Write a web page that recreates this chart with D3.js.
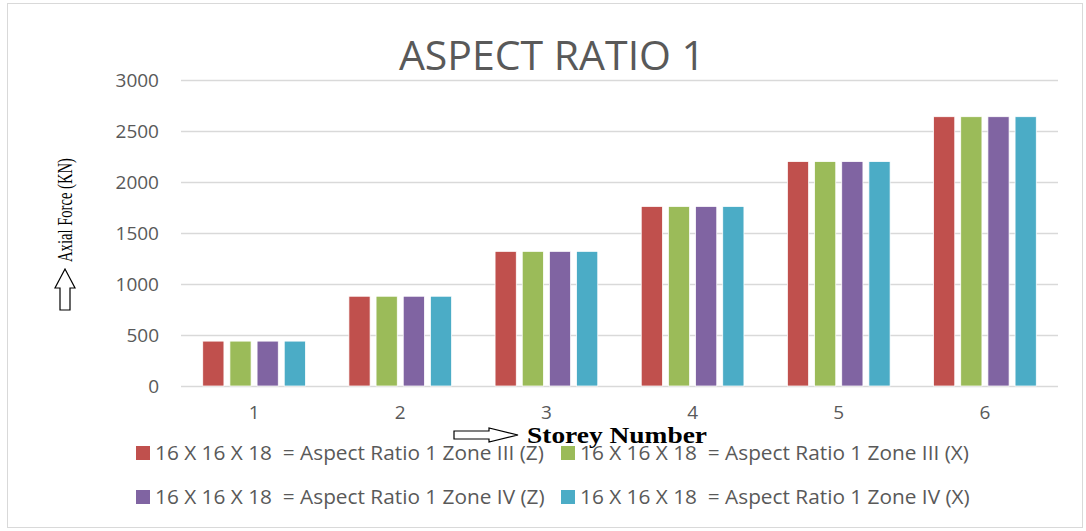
<!DOCTYPE html>
<html>
<head>
<meta charset="utf-8">
<script src="https://cdnjs.cloudflare.com/ajax/libs/d3/7.8.5/d3.min.js"></script>
<style>
  body { margin: 0; background: #fff; }
  svg { display: block; }
</style>
</head>
<body>
<div id="chart"></div>
<script>
var storeys = ["1", "2", "3", "4", "5", "6"];
var seriesNames = [
  "16 X 16 X 18  = Aspect Ratio 1 Zone III (Z)",
  "16 X 16 X 18  = Aspect Ratio 1 Zone III (X)",
  "16 X 16 X 18  = Aspect Ratio 1 Zone IV (Z)",
  "16 X 16 X 18  = Aspect Ratio 1 Zone IV (X)"
];
var zone3Z = [440, 880, 1320, 1760, 2200, 2640];
var zone3X = [440, 880, 1320, 1760, 2200, 2640];
var zone4Z = [440, 880, 1320, 1760, 2200, 2640];
var zone4X = [440, 880, 1320, 1760, 2200, 2640];
var yTicks = [0, 500, 1000, 1500, 2000, 2500, 3000];

var width = 1086,
  height = 531,
  plotLeft = 181,
  plotRight = 1058,
  plotTop = 80,
  plotBottom = 386,
  colors = ["#C0504D", "#9BBB59", "#8064A2", "#4BACC6"],
  textColor = "#595959",
  font = "'Open Sans', 'Liberation Sans', sans-serif";

var allSeries = [zone3Z, zone3X, zone4Z, zone4X];

var svg = d3.select("#chart").append("svg")
  .attr("width", width).attr("height", height);

// chart frame
svg.append("rect")
  .attr("x", 7.5).attr("y", 3.5)
  .attr("width", 1075).attr("height", 524)
  .attr("fill", "#fff").attr("stroke", "#D9D9D9").attr("stroke-width", 1);

var x0 = d3.scaleBand().domain(storeys).range([plotLeft, plotRight]).paddingInner(0).paddingOuter(0);
var x1 = d3.scaleBand().domain(d3.range(4)).range([0, x0.bandwidth()]).paddingInner(0.22).paddingOuter(0.8);
var y = d3.scaleLinear().domain([0, 3000]).range([plotBottom, plotTop]);

// gridlines
svg.append("g").selectAll("line")
  .data(yTicks)
  .enter().append("line")
  .attr("x1", plotLeft).attr("x2", plotRight)
  .attr("y1", function(d) { return Math.round(y(d)) + 0.5; })
  .attr("y2", function(d) { return Math.round(y(d)) + 0.5; })
  .attr("stroke", "#D9D9D9").attr("stroke-width", 1.5);

// y tick labels
var yAxis = svg.append("g")
  .attr("transform", "translate(" + (plotLeft - 22) + ",0)")
  .call(d3.axisLeft(y).tickValues(yTicks).tickFormat(d3.format("d")).tickSize(0).tickPadding(0));
yAxis.select(".domain").remove();
yAxis.selectAll("text")
  .attr("font-family", font).attr("font-size", "19px").attr("fill", textColor);

// x tick labels
var xAxis = svg.append("g")
  .attr("transform", "translate(0," + (plotBottom + 19) + ")")
  .call(d3.axisBottom(x0).tickSize(0).tickPadding(0));
xAxis.select(".domain").remove();
xAxis.selectAll("text")
  .attr("font-family", font).attr("font-size", "19px").attr("fill", textColor);

// bars
var groups = svg.append("g").selectAll("g")
  .data(storeys)
  .enter().append("g")
  .attr("transform", function(d) { return "translate(" + x0(d) + ",0)"; });

groups.selectAll("rect")
  .data(function(d, i) {
    return allSeries.map(function(s, k) { return { k: k, v: s[i] }; });
  })
  .enter().append("rect")
  .attr("x", function(d) { return x1(d.k); })
  .attr("y", function(d) { return y(d.v); })
  .attr("width", x1.bandwidth())
  .attr("height", function(d) { return y(0) - y(d.v); })
  .attr("fill", function(d) { return colors[d.k]; })
  .attr("stroke", "#fff").attr("stroke-width", 0.75);

// title
svg.append("text")
  .attr("x", 552).attr("y", 70)
  .attr("text-anchor", "middle")
  .attr("font-family", font).attr("font-size", "41px")
  .attr("fill", textColor)
  .text("ASPECT RATIO 1");

// legend
var legendPos = [[136, 453], [561, 453], [136, 497], [561, 497]];
var legend = svg.append("g").selectAll("g")
  .data(seriesNames)
  .enter().append("g")
  .attr("transform", function(d, i) { return "translate(" + legendPos[i][0] + "," + legendPos[i][1] + ")"; });
legend.append("rect")
  .attr("x", 0).attr("y", -7)
  .attr("width", 14).attr("height", 14)
  .attr("fill", function(d, i) { return colors[i]; });
legend.append("text")
  .attr("x", 19).attr("y", 7)
  .attr("font-family", font).attr("font-size", "20.8px")
  .attr("fill", textColor)
  .style("white-space", "pre")
  .text(function(d) { return d; });

// y axis label with arrow
var yl = svg.append("g").attr("transform", "translate(65,0)");
yl.append("text")
  .attr("transform", "translate(7,210) rotate(-90)")
  .attr("text-anchor", "middle")
  .attr("font-family", "'Liberation Serif', serif")
  .attr("font-size", "21px")
  .attr("textLength", 104).attr("lengthAdjust", "spacingAndGlyphs")
  .attr("fill", "#000")
  .text("Axial Force (KN)");
yl.append("path")
  .attr("d", "M0,269 L-10,288 L-5,288 L-5,310 L5,310 L5,288 L10,288 Z")
  .attr("fill", "#fff").attr("stroke", "#000").attr("stroke-width", 1.2);

// x axis label with arrow (its text box sits over the first legend row)
svg.append("rect")
  .attr("x", 524).attr("y", 424)
  .attr("width", 188).attr("height", 22)
  .attr("fill", "#fff");
svg.append("path")
  .attr("d", "M454,431 L489,431 L489,428 L518,435 L489,442 L489,439 L454,439 Z")
  .attr("fill", "#fff").attr("stroke", "#000").attr("stroke-width", 1.2);
svg.append("text")
  .attr("x", 527).attr("y", 443)
  .attr("font-family", "'Liberation Serif', serif")
  .attr("font-weight", "bold").attr("font-size", "23px")
  .attr("textLength", 180).attr("lengthAdjust", "spacingAndGlyphs")
  .attr("fill", "#000")
  .text("Storey Number");
</script>
</body>
</html>
